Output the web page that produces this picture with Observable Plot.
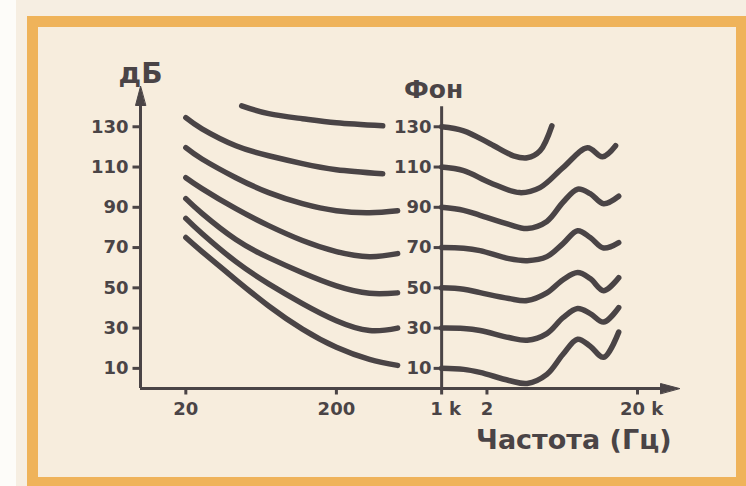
<!DOCTYPE html>
<html><head><meta charset="utf-8">
<script src="https://cdn.jsdelivr.net/npm/d3@7"></script>
<script src="https://cdn.jsdelivr.net/npm/@observablehq/plot@0.6"></script>
<style>
html,body{margin:0;padding:0;background:#f6eee2;}
#wrap{position:relative;width:746px;height:486px;overflow:hidden;background:#f6eee2;}
#strip{position:absolute;left:0;top:0;width:16px;height:486px;background:#fdfcf9;}
#frame{position:absolute;left:27px;top:16px;width:719px;height:470px;box-sizing:border-box;border:11px solid #efb35a;border-right-width:10px;border-bottom-width:9px;background:#f7eddd;}
#chart{position:absolute;left:0;top:0;}
</style></head><body>
<div id="wrap"><div id="strip"></div><div id="frame"></div><div id="chart"></div></div>
<script>
// Loudness levels (phon)
const phonLevels = [10, 30, 50, 70, 90, 110, 130];
const yTicks = [10, 30, 50, 70, 90, 110, 130];
const xTicks = [20, 200, 1000, 2000, 20000];
const xTickLabels = ["20", "200", "1 k", "2", "20 k"];

// Low-frequency parts (up to ~500 Hz), sound pressure level in dB
const lowFreqs = [20, 25.6, 43, 71, 119, 200, 332, 510];
const low10 = [75, 68, 54, 41, 29.5, 20.5, 14.5, 11.5];
const low30 = [84.5, 77, 63, 52, 42.2, 33.7, 28.8, 30];
const low50 = [94.3, 87, 74, 65, 57.5, 51, 47.3, 47.5];
const low70 = [104.7, 99.3, 89.3, 80.9, 73.5, 68, 65.5, 67];
const low90 = [119.6, 114, 104.7, 97.3, 91.8, 88.3, 87.3, 88.3];
const low110Freqs = [20, 25.6, 43, 71, 119, 200, 406];
const low110 = [134.5, 129, 120.6, 115.6, 111.7, 108.7, 106.7];
const low130Freqs = [47, 71, 119, 200, 406];
const low130 = [140.4, 136.5, 134, 132, 130.5];

// High-frequency parts (from 1 kHz)
const highFreqs = [1000, 1400, 1800, 2800, 3700, 5000, 6400, 8000, 9700, 11900, 15000];
const high10 = [10, 9.5, 8, 4, 2.5, 7, 17, 24.5, 21, 15.5, 28];
const high30 = [30, 29.8, 28.8, 25.3, 24, 27.3, 35.2, 39.7, 37.2, 33, 40.2];
const high50 = [50, 49.3, 47.6, 44.7, 43.7, 47.5, 54, 57.6, 54.6, 48.6, 55];
const high70 = [70, 69.7, 68.5, 64.5, 63.5, 65.5, 72, 78.4, 75, 69.8, 72.5];
const high90 = [90, 88.5, 86, 81.5, 79.5, 83, 92.5, 99, 96.8, 91.8, 95.5];
const high110Freqs = [1000, 1400, 2100, 3300, 4500, 6400, 9300, 11700, 14300];
const high110 = [110, 108.2, 102.2, 97.3, 99.8, 109.7, 119.6, 115.1, 120.6];
const high130Freqs = [1000, 1400, 2100, 3000, 3700, 4500, 5400];
const high130 = [130, 128, 121.6, 115.6, 114.6, 118, 130.5];

const lowSegments = [
  ["L10", lowFreqs, low10], ["L30", lowFreqs, low30], ["L50", lowFreqs, low50],
  ["L70", lowFreqs, low70], ["L90", lowFreqs, low90], ["L110", low110Freqs, low110],
  ["L130", low130Freqs, low130]
];
const highSegments = [
  ["H10", highFreqs, high10], ["H30", highFreqs, high30], ["H50", highFreqs, high50],
  ["H70", highFreqs, high70], ["H90", highFreqs, high90], ["H110", high110Freqs, high110],
  ["H130", high130Freqs, high130]
];
const toRows = segs => segs.flatMap(([id, fs, vs]) => fs.map((f, i) => ({id, f, db: vs[i]})));
const lowRows = toRows(lowSegments);
const highRows = toRows(highSegments);
const xLabelRows = xTicks.map((f, i) => ({f, label: xTickLabels[i]}));

const INK = "#4a4446";
const FONT = "DejaVu Sans";
const arrowHead = {draw(c, l, r) { c.moveTo(0, -l); c.lineTo(-r, 0); c.lineTo(r, 0); c.closePath(); }};
const tickLeft = {draw(c) { c.moveTo(-8, 0); c.lineTo(0, 0); }};
const tickDown = {draw(c) { c.moveTo(0, 0); c.lineTo(0, 6); }};

const yMin = 0, yMax = 150, xMin = 10, xMax = 38000, midF = 1000;
const txt = {fontWeight: "bold", fontFamily: FONT, fill: INK};

const chart = Plot.plot({
  width: 746, height: 486,
  marginLeft: 140, marginRight: 67, marginTop: 86, marginBottom: 98,
  style: {background: "transparent", fontFamily: FONT, color: INK, overflow: "visible"},
  x: {type: "log", domain: [xMin, xMax], axis: null},
  y: {domain: [yMin, yMax], axis: null},
  marks: [
    // left axis
    Plot.ruleX([xMin], {y1: yMin, y2: yMax - 6, stroke: INK, strokeWidth: 3}),
    Plot.vector([0], {x: xMin, y: yMax, length: 19, r: 5, anchor: "end", shape: arrowHead, fill: INK, stroke: INK, strokeWidth: 1}),
    Plot.dot(yTicks, {x: xMin, y: d => d, symbol: tickLeft, stroke: INK, strokeWidth: 3, fill: "none"}),
    Plot.text(yTicks, {x: xMin, y: d => d, text: d => String(d), textAnchor: "end", dx: -12, lineAnchor: "middle", fontSize: 18, ...txt}),
    // bottom axis
    Plot.ruleY([yMin], {x1: xMin, x2: xMax * 0.93, stroke: INK, strokeWidth: 3}),
    Plot.vector([0], {x: xMax, y: yMin, length: 19, r: 5, rotate: 90, anchor: "end", shape: arrowHead, fill: INK, stroke: INK, strokeWidth: 1}),
    Plot.dot(xTicks, {x: d => d, y: yMin, symbol: tickDown, stroke: INK, strokeWidth: 3, fill: "none"}),
    Plot.text(xLabelRows.filter(d => !d.label.includes("k")), {x: "f", y: yMin, text: "label", dy: 21, lineAnchor: "middle", fontSize: 18, ...txt}),
    Plot.text(xLabelRows.filter(d => d.label.includes("k")), {x: "f", y: yMin, text: "label", dy: 21, dx: 4, lineAnchor: "middle", fontSize: 18, ...txt}),
    // middle (phon) axis
    Plot.ruleX([midF], {y1: yMin, y2: 140, stroke: INK, strokeWidth: 3}),
    Plot.dot(phonLevels, {x: midF, y: d => d, symbol: tickLeft, stroke: INK, strokeWidth: 3, fill: "none"}),
    Plot.text(phonLevels, {x: midF, y: d => d, text: d => String(d), textAnchor: "end", dx: -10, lineAnchor: "middle", fontSize: 18, ...txt}),
    // curves
    Plot.line(lowRows, {x: "f", y: "db", z: "id", curve: "natural", stroke: INK, strokeWidth: 5.5, strokeLinecap: "round"}),
    Plot.line(highRows, {x: "f", y: "db", z: "id", curve: "catmull-rom", stroke: INK, strokeWidth: 5.5, strokeLinecap: "round"}),
    // titles
    Plot.text(["дБ"], {x: xMin, y: yMax, text: d => d, lineAnchor: "bottom", dy: -4, fontSize: 28, ...txt}),
    Plot.text(["Фон"], {x: midF, y: 140, text: d => d, lineAnchor: "bottom", dy: -9, dx: -8, fontSize: 25, ...txt}),
    Plot.text(["Частота (Гц)"], {frameAnchor: "bottom-right", textAnchor: "end", lineAnchor: "bottom", dx: -8, dy: 60, fontSize: 27, ...txt})
  ]
});
document.getElementById("chart").appendChild(chart);
</script>
</body></html>
